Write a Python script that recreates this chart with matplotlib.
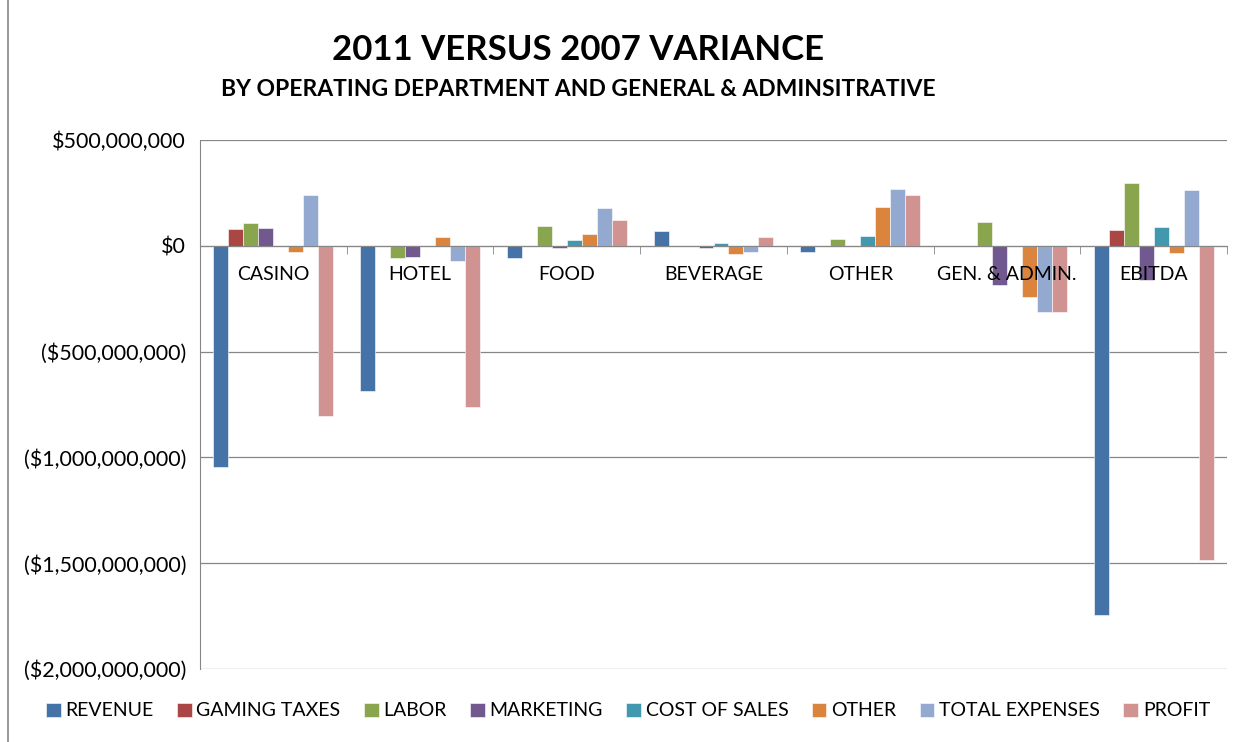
import numpy as np
import matplotlib
matplotlib.use("Agg")
import matplotlib.pyplot as plt
from matplotlib.ticker import FuncFormatter, FixedLocator
from matplotlib.patches import Rectangle

plt.rcParams['font.family'] = ['Lato', 'DejaVu Sans']

# departments along the x axis
departments = ["CASINO", "HOTEL", "FOOD", "BEVERAGE", "OTHER", "GEN. & ADMIN.", "EBITDA"]

# variance per series, in millions of dollars
revenue = [-1045, -688, -56, 72, -28, 0, -1746]
gaming_taxes = [78, 0, 0, 0, 0, 0, 77]
labor = [110, -60, 93, -3, 34, 114, 295]
marketing = [83, -51, -10, -10, 0, -184, -162]
cost_of_sales = [0, 0, 29, 13, 45, 0, 87]
other = [-27, 40, 56, -40, 184, -242, -34]
total_expenses = [239, -70, 177, -29, 270, -311, 264]
profit = [-806, -763, 120, 40, 239, -311, -1486]

series = ["REVENUE", "GAMING TAXES", "LABOR", "MARKETING", "COST OF SALES",
          "OTHER", "TOTAL EXPENSES", "PROFIT"]
values = [revenue, gaming_taxes, labor, marketing, cost_of_sales,
          other, total_expenses, profit]
colors = ["#4572A7", "#AA4643", "#89A54E", "#71588F", "#4198AF",
          "#DB843D", "#93A9CF", "#D19392"]

fig = plt.figure(figsize=(12.41, 7.42), dpi=100)
ax = fig.add_axes([200 / 1241, 1 - 669 / 742, 1027 / 1241, 529 / 742])

x = np.arange(len(departments))
width = 0.102
for i, (name, vals, col) in enumerate(zip(series, values, colors)):
    offs = (i - 3.5) * width
    ax.bar(x + offs, np.array(vals) * 1e6, width, color=col, label=name,
           edgecolor="white", linewidth=0.4, zorder=3)

ax.set_xlim(-0.5, len(departments) - 0.5)
ax.set_ylim(-2e9, 5e8)
ax.set_yticks(np.arange(-2e9, 5e8 + 1, 5e8))


def money(v, pos):
    if v == 0:
        return "$0"
    s = "${:,.0f}".format(abs(v))
    return "(" + s + ")" if v < 0 else s


ax.yaxis.set_major_formatter(FuncFormatter(money))
ax.tick_params(axis="y", length=0, labelsize=15.5, pad=10)
ax.grid(axis="y", color="#868686", linewidth=0.9, zorder=0)

for s in ["top", "right"]:
    ax.spines[s].set_visible(False)
ax.spines["left"].set_color("#868686")
ax.spines["bottom"].set_position(("data", 0))
ax.spines["bottom"].set_color("#868686")
ax.spines["bottom"].set_zorder(4)

# category labels sit just under the zero line, drawn over the bars
ax.set_xticks(x)
ax.set_xticklabels([])
ax.tick_params(axis="x", which="major", length=0)
ax.xaxis.set_minor_locator(FixedLocator(np.arange(-0.5, len(departments), 1)))
ax.tick_params(axis="x", which="minor", length=6, color="#868686", direction="out")
for xi, lab in zip(x, departments):
    ax.annotate(lab, (xi, 0), xytext=(0, -29), textcoords="offset pixels",
                ha="center", va="center", fontsize=14, zorder=6)

fig.text(578 / 1241, 1 - 50 / 742, "2011 VERSUS 2007 VARIANCE",
         ha="center", va="center", fontsize=25, fontweight="bold")
fig.text(578 / 1241, 1 - 90 / 742,
         "BY OPERATING DEPARTMENT AND GENERAL & ADMINSITRATIVE",
         ha="center", va="center", fontsize=16.5, fontweight="bold")

fig.legend(loc="center", bbox_to_anchor=(628 / 1241, 1 - 711 / 742), ncol=8,
           frameon=False, fontsize=14, handlelength=0.75, handleheight=0.75,
           handletextpad=0.25, columnspacing=1.2)

# chart area border
fig.patches.append(Rectangle((8 / 1241, -0.01), 1.1, 1.1, transform=fig.transFigure,
                             fill=False, edgecolor="#868686", linewidth=1.2))

fig.savefig("out.png", dpi=100)
